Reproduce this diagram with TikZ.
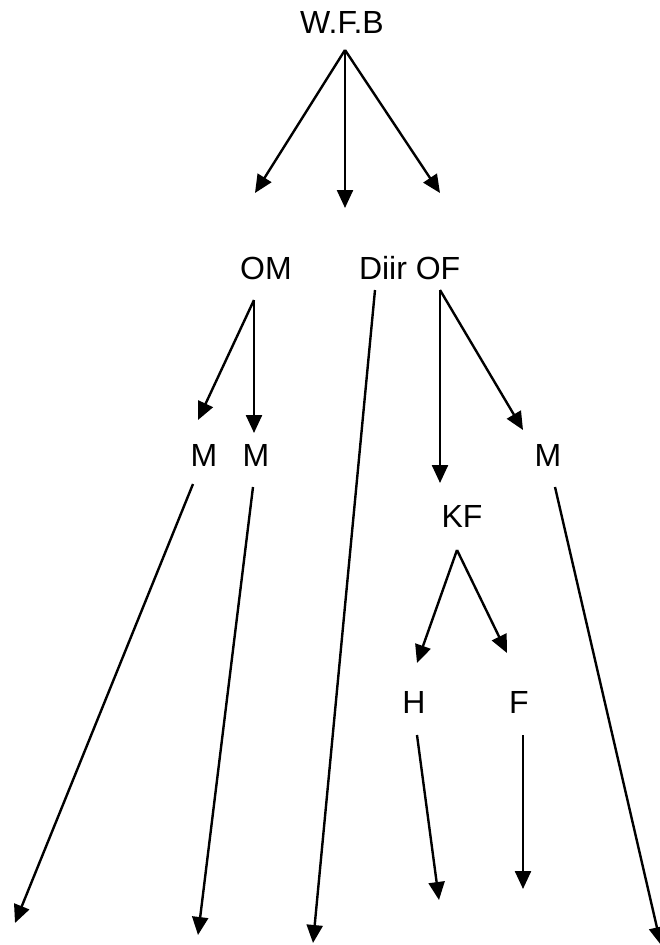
\documentclass[tikz,border=0pt]{standalone}
\usepackage{fontspec}
\setmainfont{Liberation Sans}
\usetikzlibrary{arrows.meta}
\tikzset{
  lbl/.style={anchor=base, inner sep=0pt, font=\fontsize{32}{38}\selectfont},
  conn/.style={line width=2.4pt, -{Triangle[length=18pt,width=16pt]}}
}
\begin{document}
\begin{tikzpicture}[x=1pt,y=-1pt]
\useasboundingbox (0,0) rectangle (660,945);
% labels
\node[lbl] (wfb) at (342,33) {W.F.B};
\node[lbl] (om) at (266,279) {OM};
\node[lbl] (diir) at (383,279) {Diir};
\node[lbl] (of) at (438,279) {OF};
\node[lbl] (m1) at (204,466) {M};
\node[lbl] (m2) at (256,466) {M};
\node[lbl] (m3) at (548,466) {M};
\node[lbl] (kf) at (462,527) {KF};
\node[lbl] (h) at (414,713) {H};
\node[lbl] (f) at (519,713) {F};
% connector anchor points
\coordinate (wfbS) at (345,50);
\coordinate (omS) at (254,300);
\coordinate (diirS) at (375,290);
\coordinate (ofS) at (440,290);
\coordinate (m1S) at (193,484);
\coordinate (m2S) at (253,487);
\coordinate (m3S) at (555,487);
\coordinate (kfS) at (457,550);
\coordinate (hS) at (417,735);
\coordinate (fS) at (523,735);
% free ends
\coordinate (e1) at (255,193);
\coordinate (e2) at (345,208);
\coordinate (e3) at (440,193);
\coordinate (e4) at (198,420);
\coordinate (e5) at (254,433);
\coordinate (e6) at (440,483);
\coordinate (e7) at (523,430);
\coordinate (e8) at (417,663);
\coordinate (e9) at (507,653);
\coordinate (b1) at (15,923);
\coordinate (b2) at (198,935);
\coordinate (b3) at (313,943);
\coordinate (b4) at (439,900);
\coordinate (b5) at (523,889);
\coordinate (b6) at (661,945);
% connectors
\draw[conn] (wfbS) -- (e1);
\draw[conn] (wfbS) -- (e2);
\draw[conn] (wfbS) -- (e3);
\draw[conn] (omS) -- (e4);
\draw[conn] (omS) -- (e5);
\draw[conn] (ofS) -- (e6);
\draw[conn] (ofS) -- (e7);
\draw[conn] (kfS) -- (e8);
\draw[conn] (kfS) -- (e9);
\draw[conn] (m1S) -- (b1);
\draw[conn] (m2S) -- (b2);
\draw[conn] (diirS) -- (b3);
\draw[conn] (hS) -- (b4);
\draw[conn] (fS) -- (b5);
\draw[conn] (m3S) -- (b6);
\end{tikzpicture}
\end{document}
